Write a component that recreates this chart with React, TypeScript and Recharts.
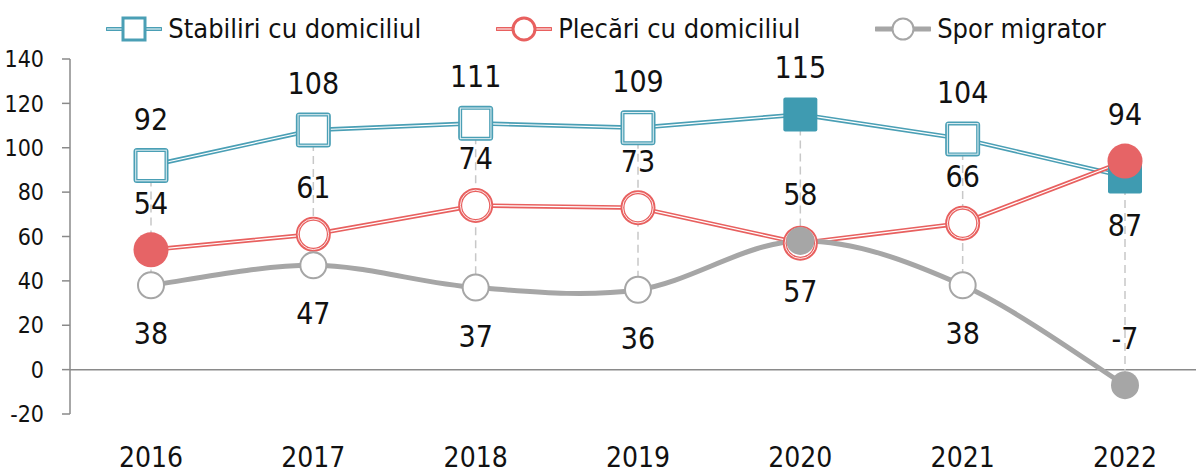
import { LineChart, Line, XAxis, YAxis, ReferenceLine } from "recharts";

const years = ["2016", "2017", "2018", "2019", "2020", "2021", "2022"];
const stabiliri = [92, 108, 111, 109, 115, 104, 87];
const plecari = [54, 61, 74, 73, 57, 66, 94];
const spor = [38, 47, 37, 36, 58, 38, -7];
const yTicks = [-20, 0, 20, 40, 60, 80, 100, 120, 140];

// where each value label sits relative to its point
const stabiliriSides = ["top", "top", "top", "top", "top", "top", "bottom"];
const plecariSides = ["top", "top", "top", "top", "bottom", "top", "top"];
const sporSides = ["bottom", "bottom", "bottom", "bottom", "top", "bottom", "top"];

const TEAL = "#4a9fb5";
const TEAL_FILL = "#3f9bb1";
const RED = "#e8605f";
const RED_FILL = "#e66466";
const GRAY = "#a6a6a6";
const AXIS = "#8a8a8a";
const FONT = "'Liberation Sans Narrow', 'DejaVu Sans Condensed', 'DejaVu Sans', sans-serif";
const TXT = { fontStretch: "condensed" as const };

const data = years.map((year, i) => ({
  year,
  stabiliri: stabiliri[i],
  plecari: plecari[i],
  spor: spor[i],
}));

const extremes = (arr: number[]) => [arr.indexOf(Math.max(...arr)), arr.indexOf(Math.min(...arr))];

/* Excel-like smoothing (Catmull-Rom) */
const smooth = (ctx: any) => {
  let pts: number[][] = [];
  return {
    areaStart() {},
    areaEnd() {},
    lineStart() {
      pts = [];
    },
    point(x: number, y: number) {
      pts.push([+x, +y]);
    },
    lineEnd() {
      if (!pts.length) return;
      ctx.moveTo(pts[0][0], pts[0][1]);
      for (let i = 0; i < pts.length - 1; i++) {
        const p0 = pts[Math.max(i - 1, 0)];
        const p1 = pts[i];
        const p2 = pts[i + 1];
        const p3 = pts[Math.min(i + 2, pts.length - 1)];
        ctx.bezierCurveTo(
          p1[0] + (p2[0] - p0[0]) / 6,
          p1[1] + (p2[1] - p0[1]) / 6,
          p2[0] - (p3[0] - p1[0]) / 6,
          p2[1] - (p3[1] - p1[1]) / 6,
          p2[0],
          p2[1]
        );
      }
    },
  };
};

const squareDot = (filled: number[]) => (p: any) => {
  const { cx, cy, index } = p;
  if (filled.includes(index))
    return <rect key={index} x={cx - 17} y={cy - 17} width={34} height={34} rx={2} fill={TEAL_FILL} />;
  return (
    <g key={index}>
      <rect x={cx - 15.5} y={cy - 15.5} width={31} height={31} rx={1.5} fill="#fff" stroke={TEAL} strokeWidth={4} />
      <rect x={cx - 15.3} y={cy - 15.3} width={30.6} height={30.6} fill="none" stroke="#fff" strokeWidth={1} opacity={0.85} />
    </g>
  );
};

const ringDot = (filled: number[]) => (p: any) => {
  const { cx, cy, index } = p;
  if (filled.includes(index)) return <circle key={index} cx={cx} cy={cy} r={17.5} fill={RED_FILL} />;
  return (
    <g key={index}>
      <circle cx={cx} cy={cy} r={15.5} fill="#fff" stroke={RED} strokeWidth={4} />
      <circle cx={cx} cy={cy} r={15.3} fill="none" stroke="#fff" strokeWidth={1} opacity={0.85} />
    </g>
  );
};

const grayDot = (filled: number[]) => (p: any) => {
  const { cx, cy, index } = p;
  if (filled.includes(index)) return <circle key={index} cx={cx} cy={cy} r={14} fill={GRAY} />;
  return <circle key={index} cx={cx} cy={cy} r={13} fill="#fff" stroke={GRAY} strokeWidth={2} />;
};

const valueLabel = (sides: string[]) => (p: any) => {
  const { x, y, value, index } = p;
  const dy = sides[index] === "top" ? -36 : 59;
  return (
    <text key={index} x={x} y={y + dy} textAnchor="middle" fontSize={30} fontFamily={FONT} fill="#111" style={TXT}>
      {value}
    </text>
  );
};

const YearTick = (p: any) => (
  <text x={p.x} y={p.y + 51} textAnchor="middle" fontSize={28} fontFamily={FONT} fill="#111" style={TXT}>
    {p.payload.value}
  </text>
);

function LegendIcon({ kind }: { kind: string }) {
  return (
    <svg width={56} height={30} style={{ display: "block" }}>
      {kind === "square" && (
        <>
          <line x1={1} x2={55} y1={15} y2={15} stroke={TEAL} strokeWidth={4} strokeLinecap="round" />
          <line x1={1} x2={55} y1={15} y2={15} stroke="#fff" strokeWidth={1} />
          <rect x={17} y={4} width={22} height={22} fill="#fff" stroke={TEAL} strokeWidth={3} />
        </>
      )}
      {kind === "ring" && (
        <>
          <line x1={1} x2={55} y1={15} y2={15} stroke={RED} strokeWidth={4} strokeLinecap="round" />
          <line x1={1} x2={55} y1={15} y2={15} stroke="#fff" strokeWidth={1} />
          <circle cx={28} cy={15} r={11} fill="#fff" stroke={RED} strokeWidth={3} />
        </>
      )}
      {kind === "gray" && (
        <>
          <line x1={1} x2={55} y1={15} y2={15} stroke={GRAY} strokeWidth={5} strokeLinecap="round" />
          <circle cx={28} cy={15} r={10.5} fill="#fff" stroke={GRAY} strokeWidth={2} />
        </>
      )}
    </svg>
  );
}

const legendItems = [
  { name: "Stabiliri cu domiciliul", kind: "square" },
  { name: "Plecări cu domiciliul", kind: "ring" },
  { name: "Spor migrator", kind: "gray" },
];

export default function App() {
  const [sMax, sMin] = extremes(stabiliri);
  const [pMax, pMin] = extremes(plecari);
  const [gMax, gMin] = extremes(spor);

  return (
    <div
      style={{
        position: "absolute",
        left: 0,
        top: 0,
        width: 1196,
        height: 474,
        overflow: "hidden",
        background: "#fff",
        fontStretch: "condensed",
      }}
    >
      <div
        style={{
          position: "absolute",
          top: 14,
          left: 0,
          width: 1212,
          display: "flex",
          justifyContent: "center",
          alignItems: "center",
          gap: 75,
          fontFamily: FONT,
          fontSize: 27,
          color: "#111",
          lineHeight: "30px",
        }}
      >
        {legendItems.map((it) => (
          <div key={it.name} style={{ display: "flex", alignItems: "center", gap: 6 }}>
            <LegendIcon kind={it.kind} />
            <span>{it.name}</span>
          </div>
        ))}
      </div>
      <LineChart width={1206} height={474} data={data} margin={{ top: 59, right: 0, bottom: 0, left: 0 }}>
        <XAxis
          dataKey="year"
          padding={{ left: 81, right: 81 }}
          axisLine={false}
          tickLine={false}
          tickSize={0}
          height={60}
          tick={YearTick}
          interval={0}
        />
        <YAxis
          domain={[-20, 140]}
          ticks={yTicks}
          width={70}
          axisLine={{ stroke: AXIS, strokeWidth: 1.5 }}
          tickLine={{ stroke: AXIS, strokeWidth: 1.5 }}
          tickSize={8}
          tickMargin={18}
          tick={{ fontSize: 23, fontFamily: FONT, fill: "#111", style: TXT }}
          interval={0}
        />
        <ReferenceLine y={0} stroke={AXIS} strokeWidth={1.5} />

        <Line dataKey="stabiliri" stroke={TEAL} strokeWidth={4.5} dot={false} activeDot={false} isAnimationActive={false} />
        <Line dataKey="stabiliri" stroke="#fff" strokeWidth={1.2} dot={false} activeDot={false} isAnimationActive={false} />
        <Line
          dataKey="stabiliri"
          stroke="none"
          dot={squareDot([sMax, sMin])}
          activeDot={false}
          label={valueLabel(stabiliriSides)}
          isAnimationActive={false}
        />

        <Line dataKey="plecari" stroke={RED} strokeWidth={4.5} dot={false} activeDot={false} isAnimationActive={false} />
        <Line dataKey="plecari" stroke="#fff" strokeWidth={1.2} dot={false} activeDot={false} isAnimationActive={false} />
        <Line
          dataKey="plecari"
          stroke="none"
          dot={ringDot([pMax, pMin])}
          activeDot={false}
          label={valueLabel(plecariSides)}
          isAnimationActive={false}
        />

        <Line
          dataKey="spor"
          type={smooth as any}
          stroke={GRAY}
          strokeWidth={5}
          dot={grayDot([gMax, gMin])}
          activeDot={false}
          label={valueLabel(sporSides)}
          isAnimationActive={false}
        />

        {years.map((y, i) => {
          const vals = [stabiliri[i], plecari[i], spor[i]];
          return (
            <ReferenceLine
              key={y}
              segment={[
                { x: y, y: Math.max(...vals) },
                { x: y, y: Math.min(...vals) },
              ]}
              stroke="#c8c8c8"
              strokeWidth={1.5}
              strokeDasharray="8 5"
            />
          );
        })}
      </LineChart>
    </div>
  );
}
